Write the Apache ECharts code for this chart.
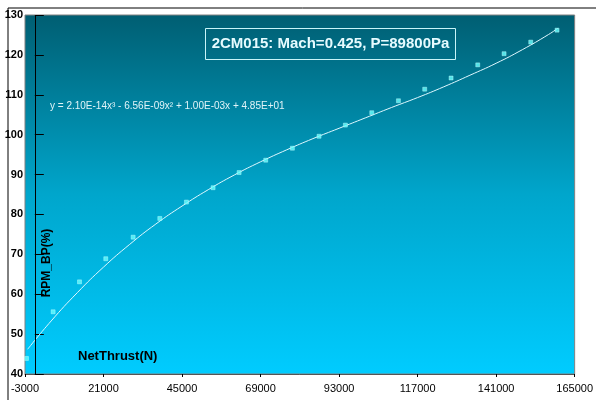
<!DOCTYPE html>
<html><head><meta charset="utf-8">
<script src="https://cdn.jsdelivr.net/npm/echarts@6/dist/echarts.min.js"></script>
<style>html,body{margin:0;padding:0;background:#fff}#c{width:596px;height:400px}</style>
</head><body><div id="c"></div>
<script>
const thrust = [-2550, 5600, 13660, 21690, 30050, 38200, 46340, 54490, 62440, 70580, 78730, 86880, 94930, 102990, 111140, 119170, 127230, 135380, 143430, 151580, 159620];
const rpm = [43.9, 55.6, 63.1, 68.9, 74.3, 79.0, 83.1, 86.7, 90.5, 93.6, 96.6, 99.6, 102.4, 105.5, 108.5, 111.4, 114.2, 117.5, 120.3, 123.2, 126.2];
const trendX = [-2200, 5000, 13000, 21000, 29000, 37000, 45000, 53000, 61000, 69000, 77000, 85000, 93000, 101000, 109000, 117000, 125000, 133000, 141000, 149000, 157000, 159900];
const trendY = [46.2, 53.3, 60.4, 66.8, 72.5, 77.6, 82.1, 86.2, 89.9, 93.2, 96.2, 99.0, 101.6, 104.2, 106.8, 109.3, 112.0, 114.9, 117.9, 121.3, 125.1, 126.7];
const xTicks = [-3000, 21000, 45000, 69000, 93000, 117000, 141000, 165000];
const yTicks = [40, 50, 60, 70, 80, 90, 100, 110, 120, 130];
const titleText = '2CM015: Mach=0.425, P=89800Pa';
const eqText = 'y = 2.10E-14x³ - 6.56E-09x² + 1.00E-03x + 4.85E+01';

const chart = echarts.init(document.getElementById('c'), null, {renderer: 'canvas'});
chart.setOption({
  animation: false,
  backgroundColor: '#ffffff',
  grid: {
    left: 25, right: 14, top: 15, bottom: 26,
    show: true,
    borderColor: '#808080', borderWidth: 1,
    backgroundColor: new echarts.graphic.LinearGradient(0, 0, 0, 1, [
      {offset: 0, color: '#005e72'},
      {offset: 0.5, color: '#00a6cc'},
      {offset: 1, color: '#00ccff'}
    ])
  },
  xAxis: {
    type: 'value', min: -3000, max: 165000,
    splitLine: {show: false},
    axisLine: {show: true, onZero: false, lineStyle: {color: '#555555', width: 1}},
    axisTick: {show: true, length: 3, lineStyle: {color: '#000'}, customValues: xTicks},
    axisLabel: {
      customValues: xTicks, color: '#000', fontSize: 11, margin: 9,
      fontFamily: 'Liberation Sans, Arial, sans-serif',
      formatter: v => String(v)
    }
  },
  yAxis: {
    type: 'value', min: 40, max: 130, interval: 10,
    splitLine: {show: false},
    axisLine: {show: false},
    axisTick: {show: true, inside: true, length: 9, lineStyle: {color: '#000'}},
    axisLabel: {
      color: '#000', fontSize: 11, fontWeight: 'bold', margin: 2,
      fontFamily: 'Liberation Sans, Arial, sans-serif'
    }
  },
  series: [
    {
      type: 'line',
      data: trendX.map((x, i) => [x, trendY[i]]),
      showSymbol: false, smooth: true,
      lineStyle: {color: '#dff8ff', width: 1},
      markLine: {
        silent: true, symbol: 'none', label: {show: false},
        lineStyle: {color: '#000', width: 1, type: 'solid'},
        data: [{xAxis: 0}]
      },
      z: 3
    },
    {
      type: 'scatter',
      data: thrust.map((x, i) => [x, rpm[i]]),
      symbol: 'rect', symbolSize: 4,
      itemStyle: {color: '#66ffff', borderColor: '#ccffff', borderWidth: 0.5},
      z: 4
    }
  ],
  graphic: [
    {type: 'rect', left: 5.5, top: 5.5, shape: {width: 620, height: 420},
     style: {fill: null, stroke: '#000', lineWidth: 1}, z: 10, silent: true},
    {type: 'rect', shape: {x: 205.5, y: 28.5, width: 250, height: 31},
     style: {fill: null, stroke: '#c8f4f8', lineWidth: 1}, z: 10},
    {type: 'text', x: 330.5, y: 44, style: {text: titleText, fill: '#e6fbff',
      font: 'bold 15px Liberation Sans, Arial, sans-serif', align: 'center', verticalAlign: 'middle'}, z: 10},
    {type: 'text', x: 50, y: 106, style: {text: eqText, fill: '#e0f4f8',
      font: '10px Liberation Sans, Arial, sans-serif', align: 'left', verticalAlign: 'middle'}, z: 10},
    {type: 'text', x: 47, y: 263, rotation: Math.PI / 2, style: {text: 'RPM_BP(%)', fill: '#000',
      font: 'bold 12px Liberation Sans, Arial, sans-serif', align: 'center', verticalAlign: 'middle'}, z: 10},
    {type: 'text', x: 78, y: 356, style: {text: 'NetThrust(N)', fill: '#000',
      font: 'bold 13px Liberation Sans, Arial, sans-serif', align: 'left', verticalAlign: 'middle'}, z: 10}
  ]
});
</script></body></html>
